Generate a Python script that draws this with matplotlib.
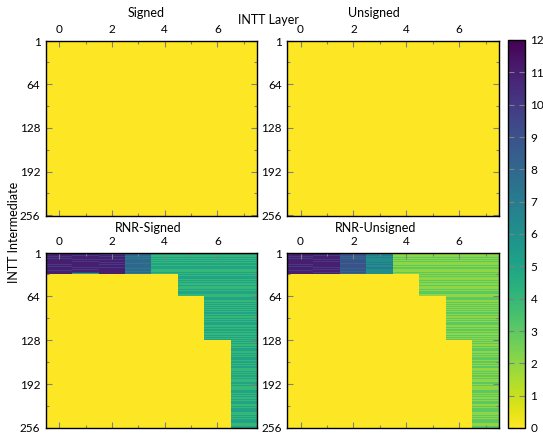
import numpy as np
import matplotlib.pyplot as plt

plt.rcParams['font.family'] = ['Lato', 'DejaVu Sans']
plt.rcParams['font.size'] = 8.5

n_rows = 256
n_layers = 8

# row blocks of the RNR panels: rows [start, end) are nonzero from this column on
block_ends = [32, 64, 128, 256]
block_tail_first_col = [4, 5, 6, 7]

# per-row values of the right-hand (tail) part, one hex digit per row
signed_tail = (
    "45455445545445545454455454454554"
    "54454556454454545544545445545454"
    "44554545454554454554454455445454"
    "55454454554545445454554545445455"
    "45544545454455454545445545545445"
    "54455454544545545445454554454545"
    "45545445455454454554545445545454"
    "54454554544545545445455454454545"
)
unsigned_tail = (
    "23223223323223322323223232232332"
    "32232223232232323322323223323232"
    "22332323232332232332232233223232"
    "33232232332323223232332323223233"
    "23322323232233232323223323323223"
    "32233232322323323223232332232323"
    "23323223233232232332323223323232"
    "32232332322323323223233232232323"
)
# columns 0-3 of the first 32 rows
signed_head = [
    "bbabbbabbabbbbabbbabbabbbbabbbab",
    "babbbabbbbabbabbbabbbbabbabbbab5",
    "bbbabbabbbabbbbabbabbbabbbbabbab",
    "88788878878888787888788878887887",
]
unsigned_head = [
    "bbabbbabbabbbbabbbabbabbbbabbbab",
    "babbbabbbbabbabbbabbbbabbabbbabb",
    "99899989989999898999899989998998",
    "67666767766766676676667676676676",
]

titles = ["Signed", "Unsigned", "RNR-Signed", "RNR-Unsigned"]


def build(head_cols, tail):
    m = np.zeros((n_rows, n_layers))
    if tail is None:
        return m
    t = np.array([int(c, 16) for c in tail], dtype=float)
    start = 0
    for end, first in zip(block_ends, block_tail_first_col):
        m[start:end, first:] = t[start:end, None]
        start = end
    for j, col in enumerate(head_cols):
        m[:32, j] = [int(c, 16) for c in col]
    return m


mats = [build(None, None), build(None, None),
        build(signed_head, signed_tail), build(unsigned_head, unsigned_tail)]

W, H = 543, 434
fig = plt.figure(figsize=(W / 100, H / 100), dpi=100)

boxes = [(46, 40.7, 257, 215.7), (287.3, 40.7, 499, 215.7),
         (46, 252.7, 257, 428.3), (287.3, 252.7, 499, 428.3)]
title_pos = [(146, 13), (374, 13), (148, 228), (376, 228)]

im = None
for m, (x0, y0, x1, y1), title, (tx, ty) in zip(mats, boxes, titles, title_pos):
    ax = fig.add_axes([x0 / W, 1 - y1 / H, (x1 - x0) / W, (y1 - y0) / H])
    im = ax.imshow(m, cmap='viridis_r', vmin=0, vmax=12, aspect='auto',
                   interpolation='nearest', extent=(-0.5, 7.5, 256.5, 0.5))
    ax.set_xticks([0, 2, 4, 6])
    ax.set_xticks([1, 3, 5, 7], minor=True)
    ax.set_yticks([1, 64, 128, 192, 256])
    ax.set_yticks([32, 96, 160, 224], minor=True)
    ax.xaxis.tick_top()
    ax.tick_params(which='both', direction='in', top=True, bottom=True,
                   left=True, right=True, labeltop=True, labelbottom=False,
                   color='gray', width=0.8)
    ax.tick_params(which='major', length=4, pad=4)
    ax.tick_params(which='minor', length=2)
    for s in ax.spines.values():
        s.set_linewidth(1.0)
    fig.text(tx / W, 1 - ty / H, title, ha='center', va='center', fontsize=9)

fig.text(268 / W, 1 - 20 / H, "INTT Layer", ha='center', va='center', fontsize=9)
fig.text(14 / W, 1 - 232 / H, "INTT Intermediate", ha='center', va='center',
         rotation=90, fontsize=9)

cax = fig.add_axes([508.3 / W, 1 - 428 / H, 16.7 / W, (428 - 40) / H])
cb = fig.colorbar(im, cax=cax, ticks=range(0, 13))
cb.ax.tick_params(direction='in', left=True, right=True, color='gray',
                  length=4, width=0.8, pad=4)
cb.outline.set_linewidth(1.0)

fig.savefig('out.png', dpi=100)
